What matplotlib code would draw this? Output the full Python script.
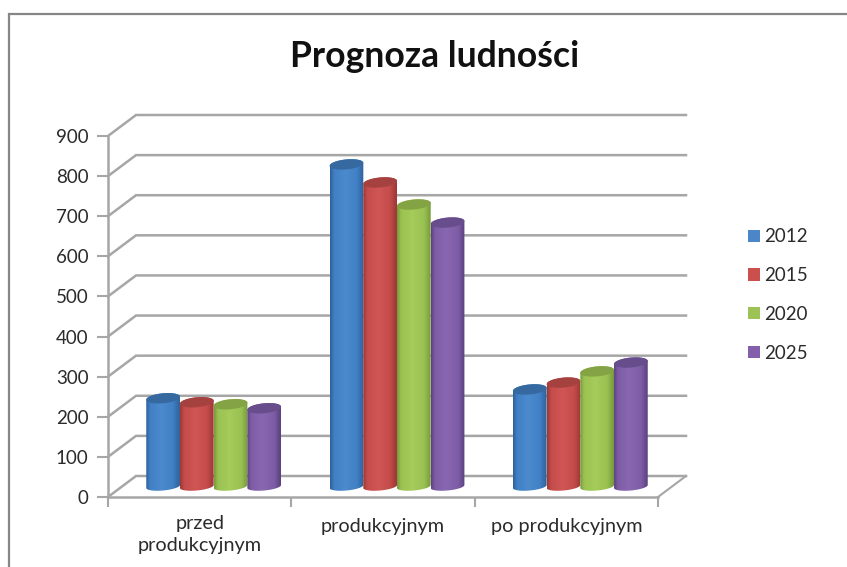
import numpy as np
import matplotlib
matplotlib.use("Agg")
import matplotlib.pyplot as plt
from matplotlib.patches import Patch, PathPatch
from matplotlib.path import Path
from matplotlib.lines import Line2D
from matplotlib.colors import LinearSegmentedColormap

plt.rcParams['font.family'] = ['Lato', 'DejaVu Sans']

categories = ["przed\nprodukcyjnym", "produkcyjnym", "po produkcyjnym"]
years = ["2012", "2015", "2020", "2025"]
v2012 = [220, 803, 242]
v2015 = [210, 758, 259]
v2020 = [205, 703, 287]
v2025 = [195, 658, 309]
series = [v2012, v2015, v2020, v2025]
y_ticks = list(range(0, 901, 100))

# edge, middle, highlight, top-cap
palette = [
    ("#2F6099", "#4080C4", "#4C8ACC", "#35699F"),
    ("#9A3735", "#C44C4A", "#CF5654", "#A54240"),
    ("#78993C", "#9AC252", "#A6CC5A", "#83A344"),
    ("#5A417E", "#7E5DA6", "#8868B0", "#684D8C"),
]
legend_colors = ["#4A86C8", "#CB4F4D", "#9DC356", "#8460AA"]

W, H = 847, 567
fig = plt.figure(figsize=(W / 100, H / 100), dpi=100, facecolor="white")
L, R, B, T = 108, 658, 497, 136
ax = fig.add_axes([L / W, 1 - B / H, (R - L) / W, (B - T) / H])
ax.patch.set_alpha(0)

# outer chart frame: visible along the top and the left only
fig.add_artist(Line2D([8.5 / W, 8.5 / W, 1.0], [0, 1 - 14 / H, 1 - 14 / H], color="#868686",
                      lw=1.6, transform=fig.transFigure, solid_joinstyle="miter"))

GRAY = "#A6A6A6"
dx = 28 / ((R - L) / 3)
dy = 21 / ((B - T) / 900)

# back wall gridlines and floor
for v in y_ticks:
    ax.plot([0, dx, 3 + dx], [v, v + dy, v + dy], color=GRAY, lw=1.8, clip_on=False,
            solid_joinstyle="miter", zorder=1)
ax.plot([3, 3 + dx], [0, dy], color=GRAY, lw=1.5, clip_on=False, zorder=1)

for s in ("top", "right"):
    ax.spines[s].set_visible(False)
for s in ("left", "bottom"):
    ax.spines[s].set_color(GRAY)
    ax.spines[s].set_linewidth(1.8)

bar_w = 33.7 / ((R - L) / 3)
base = dy / 2
hw = bar_w / 2
cap_h = 5.0 / ((B - T) / 900)
bot_h = 4.0 / ((B - T) / 900)
tilt = 1.5 / ((B - T) / 900)
t_front = np.linspace(np.pi, 2 * np.pi, 40)   # lower half, left -> right
t_back = np.linspace(0, np.pi, 40)            # upper half, right -> left


def ell(cx, cy, ts, h):
    return cx + hw * np.cos(ts), cy + h * np.sin(ts) + tilt * np.cos(ts)


for j, vals in enumerate(series):
    edge, mid, hi, cap = palette[j]
    cmap = LinearSegmentedColormap.from_list(
        "c", [(0, edge), (0.12, mid), (0.45, hi), (0.8, mid), (1, edge)])
    for i, v in enumerate(vals):
        cx = i + 0.5 + dx / 2 + (j - 1.5) * bar_w
        xb, yb = ell(cx, base, t_front, bot_h)
        xt, yt = ell(cx, v + base, t_back, cap_h)
        verts = np.column_stack([np.r_[xb, xt], np.r_[yb, yt]])
        body = PathPatch(Path(np.vstack([verts, verts[0]]), closed=True),
                         fc="none", ec="none", transform=ax.transData)
        ax.add_patch(body)
        body.set_clip_on(False)
        z = 3 + i * 0.1 + j * 0.01
        im = ax.imshow(np.linspace(0, 1, 128)[None, :], cmap=cmap, aspect="auto",
                       extent=[cx - hw, cx + hw, base - bot_h - tilt, v + base + cap_h + tilt],
                       zorder=z, interpolation="bilinear")
        im.set_clip_path(body)
        xc, yc = ell(cx, v + base, np.linspace(0, 2 * np.pi, 80), cap_h)
        ax.fill(xc, yc, color=cap, lw=0, zorder=z + 0.001, clip_on=False)

ax.set_xlim(0, 3)
ax.set_ylim(0, 900)
ax.set_yticks(y_ticks)
ax.set_xticks([0, 1, 2, 3], labels=[])
ax.tick_params(axis="y", length=8, width=1.5, color=GRAY, labelcolor="#2B2B2B",
               labelsize=13.5, pad=6)
ax.tick_params(axis="x", length=7, width=1.5, color=GRAY)

for i, c in enumerate(categories):
    ax.annotate(c, xy=(i + 0.5, 0), xycoords=("data", "axes fraction"),
                xytext=(0, -13 if i == 0 else -15), textcoords="offset points", ha="center",
                va="top", fontsize=14.3, color="#2B2B2B", linespacing=1.36)

fig.text(435 / W, 1 - 57 / H, "Prognoza ludności", ha="center", va="center",
         fontsize=25.6, fontweight="bold", color="#111111")

handles = [Patch(facecolor=c, edgecolor="none") for c in legend_colors]
fig.legend(handles, years, loc="center left", bbox_to_anchor=(748 / W, 1 - 295 / H),
           frameon=False, fontsize=13.5, labelcolor="#2B2B2B", handlelength=0.62,
           handleheight=0.62, handletextpad=0.22, labelspacing=1.16, borderpad=0,
           borderaxespad=0)

fig.savefig("out.png", dpi=100, facecolor="white")
